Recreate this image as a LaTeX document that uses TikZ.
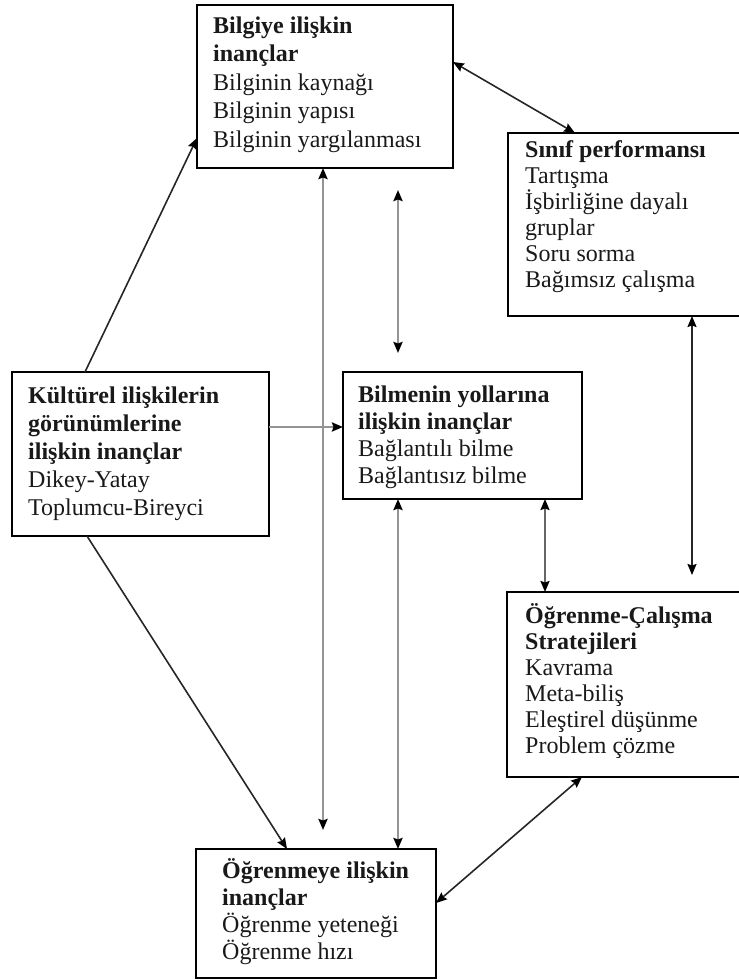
\documentclass[tikz,border=0pt]{standalone}
\usepackage{fontspec}
\setmainfont{Liberation Serif}
\usetikzlibrary{arrows.meta,calc}
\newcommand\boldln[1]{\hbox{\bfseries #1}}
\newcommand\plainln[1]{\hbox{#1}}
\newcommand\linesat[2]{\vtop{\baselineskip=#1pt\lineskiplimit=-100pt\lineskip=0pt #2}}
\begin{document}
\begin{tikzpicture}[x=1pt,y=-1pt,
  box/.style={draw=black, line width=2pt, rectangle, inner sep=0pt, outer sep=0pt, anchor=north west},
  txt/.style={anchor=base west, inner sep=0pt, font=\fontsize{24}{27}\selectfont, text=black!90},
  arr/.style={line width=1.6pt, draw=black!85},
  garr/.style={line width=2.6pt, draw=black!42},
  bk/.tip={Stealth[length=11pt,width=9pt,inset=1.5pt,color=black]}
]
\useasboundingbox (0,0) rectangle (739,980);

% boxes
\node[box, minimum width=256pt, minimum height=163pt] (bilgi) at (197,5) {};
\node[box, minimum width=233pt, minimum height=183pt] (sinif) at (508,133) {};
\node[box, minimum width=257pt, minimum height=164pt] (kult) at (12,372) {};
\node[box, minimum width=239pt, minimum height=127pt] (bilm) at (343,372) {};
\node[box, minimum width=234pt, minimum height=185pt] (oc) at (507,592) {};
\node[box, minimum width=240pt, minimum height=129pt] (ogr) at (196,849) {};

% free ends
\coordinate (v1end) at (323,830);
\coordinate (f1top) at (398,190);
\coordinate (f1bot) at (398,353);
\coordinate (v8end) at (692,575);

% connectors
\draw[arr, -bk] ([shift={(73,0)}]kult.north west) -- ([shift={(0,133)}]bilgi.north west);
\draw[arr, -bk] ([shift={(75,0)}]kult.south west) -- ([shift={(91,0)}]ogr.north west);
\draw[arr, bk-bk] ([shift={(0,57)}]bilgi.north east) -- ([shift={(67,0)}]sinif.north west);
\draw[garr, -bk] ([shift={(0,55)}]kult.north east) -- ([shift={(0,55)}]bilm.north west);
\draw[garr, bk-bk] ([shift={(126,0)}]bilgi.south west) -- (v1end);
\draw[garr, bk-bk] (f1top) -- (f1bot);
\draw[garr, bk-bk] ([shift={(55,0)}]bilm.south west) -- ([shift={(202,0)}]ogr.north west);
\draw[arr, draw=black!60, line width=2pt, bk-bk] ([shift={(202,0)}]bilm.south west) -- ([shift={(38,0)}]oc.north west);
\draw[arr, bk-bk] ([shift={(184,0)}]sinif.south west) -- (v8end);
\draw[arr, bk-bk] ([shift={(75,0)}]oc.south west) -- ([shift={(0,54)}]ogr.north east);

% texts
\node[txt] (bilgiT) at ([shift={(16,28)}]bilgi.north west) {\linesat{28.5}{%
  \boldln{Bilgiye ilişkin}\boldln{inançlar}\plainln{Bilginin kaynağı}\plainln{Bilginin yapısı}\plainln{Bilginin yargılanması}}};
\node[txt] (sinifT) at ([shift={(17,24)}]sinif.north west) {\linesat{26}{%
  \boldln{Sınıf performansı}\plainln{Tartışma}\plainln{İşbirliğine dayalı}\plainln{gruplar}\plainln{Soru sorma}\plainln{Bağımsız çalışma}}};
\node[txt] (kultT) at ([shift={(16,31)}]kult.north west) {\linesat{28}{%
  \boldln{Kültürel ilişkilerin}\boldln{görünümlerine}\boldln{ilişkin inançlar}\plainln{Dikey-Yatay}\plainln{Toplumcu-Bireyci}}};
\node[txt] (bilmT) at ([shift={(15,30)}]bilm.north west) {\linesat{27}{%
  \boldln{Bilmenin yollarına}\boldln{ilişkin inançlar}\plainln{Bağlantılı bilme}\plainln{Bağlantısız bilme}}};
\node[txt] (ocT) at ([shift={(18,31)}]oc.north west) {\linesat{26}{%
  \boldln{Öğrenme-Çalışma}\boldln{Stratejileri}\plainln{Kavrama}\plainln{Meta-biliş}\plainln{Eleştirel düşünme}\plainln{Problem çözme}}};
\node[txt] (ogrT) at ([shift={(26,29)}]ogr.north west) {\linesat{27}{%
  \boldln{Öğrenmeye ilişkin}\boldln{inançlar}\plainln{Öğrenme yeteneği}\plainln{Öğrenme hızı}}};
\end{tikzpicture}
\end{document}
